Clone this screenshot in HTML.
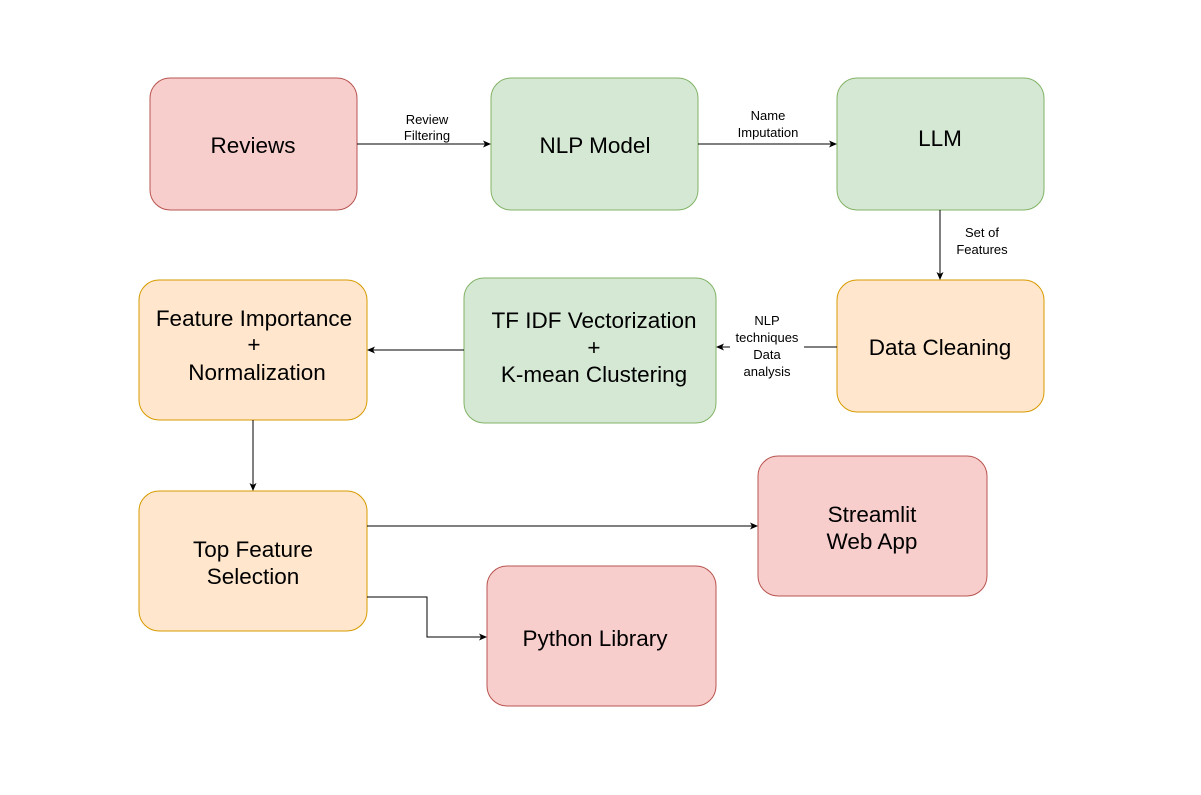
<!DOCTYPE html>
<html><head><meta charset="utf-8"><style>
html,body{margin:0;padding:0;background:#fff;}
svg{display:block;}
text{font-family:"Liberation Sans",Arial,sans-serif;}
</style></head><body>
<svg width="1201" height="795" viewBox="0 0 1201 795" xmlns="http://www.w3.org/2000/svg">
<defs><marker id="a" markerWidth="8" markerHeight="8" refX="7" refY="4" orient="auto" markerUnits="userSpaceOnUse"><path d="M0,0.5 L8,4 L0,7.5 L2,4 Z" fill="#000"/></marker></defs>
<g stroke-width="1">
<rect x="150" y="78" width="207" height="132" rx="20" fill="#f8cecc" stroke="#b85450"/>
<rect x="491" y="78" width="207" height="132" rx="20" fill="#d5e8d4" stroke="#82b366"/>
<rect x="837" y="78" width="207" height="132" rx="20" fill="#d5e8d4" stroke="#82b366"/>
<rect x="837" y="280" width="207" height="132" rx="20" fill="#ffe6cc" stroke="#d79b00"/>
<rect x="464" y="278" width="252" height="145" rx="20" fill="#d5e8d4" stroke="#82b366"/>
<rect x="139" y="280" width="228" height="140" rx="20" fill="#ffe6cc" stroke="#d79b00"/>
<rect x="139" y="491" width="228" height="140" rx="20" fill="#ffe6cc" stroke="#d79b00"/>
<rect x="758" y="456" width="229" height="140" rx="20" fill="#f8cecc" stroke="#b85450"/>
<rect x="487" y="566" width="229" height="140" rx="20" fill="#f8cecc" stroke="#b85450"/>
</g>
<g stroke="#000" stroke-width="1" fill="none" marker-end="url(#a)">
<path d="M357,144 H490"/>
<path d="M698,144 H836"/>
<path d="M940,210 V279"/>
<path d="M837,347 H717"/>
<path d="M464,350 H368"/>
<path d="M253,420 V490"/>
<path d="M367,526 H757"/>
<path d="M367,597 H427 V637 H486"/>
</g>
<g font-size="22.5" text-anchor="middle" fill="#000">
<text x="253" y="153">Reviews</text>
<text x="595" y="153">NLP Model</text>
<text x="940" y="146">LLM</text>
<text x="940" y="355">Data Cleaning</text>
<text x="594" y="328">TF IDF Vectorization</text>
<text x="594" y="355">+</text>
<text x="594" y="382">K-mean Clustering</text>
<text x="254" y="326">Feature Importance</text>
<text x="254" y="352">+</text>
<text x="257" y="380">Normalization</text>
<text x="253" y="557">Top Feature</text>
<text x="253" y="584">Selection</text>
<text x="872" y="522">Streamlit</text>
<text x="872" y="549">Web App</text>
<text x="595" y="646">Python Library</text>
</g>
<g font-size="13" text-anchor="middle" fill="#000">
<text x="427" y="124">Review</text>
<text x="427" y="140">Filtering</text>
<text x="768" y="120">Name</text>
<text x="768" y="137">Imputation</text>
<text x="982" y="237">Set of</text>
<text x="982" y="254">Features</text>
<rect x="730" y="313" width="74" height="66" fill="#fff"/>
<text x="767" y="325">NLP</text>
<text x="767" y="342">techniques</text>
<text x="767" y="359">Data</text>
<text x="767" y="376">analysis</text>
</g>
</svg>
</body></html>
